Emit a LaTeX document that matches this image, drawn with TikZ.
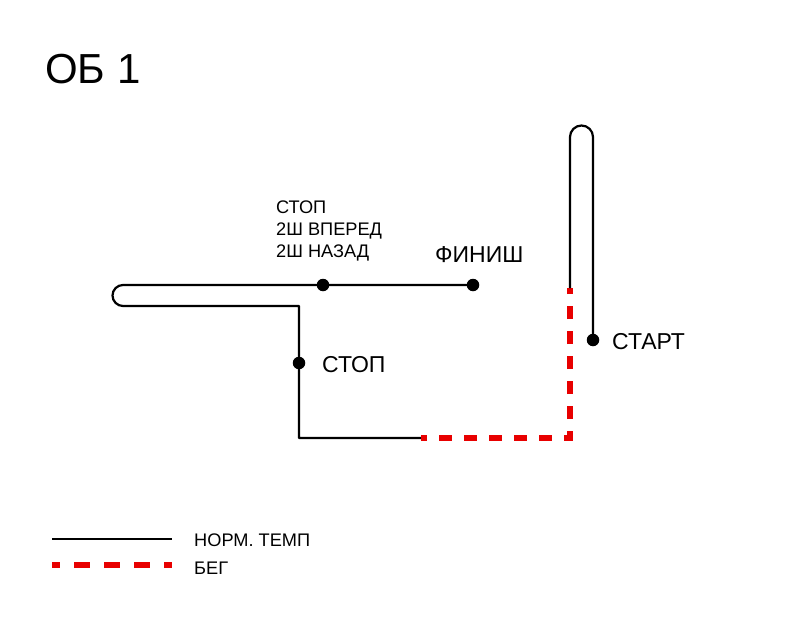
\documentclass[tikz,border=0pt]{standalone}
\usepackage{fontspec}
\setmainfont{Liberation Sans}
\definecolor{runred}{RGB}{232,0,0}
\begin{document}
\begin{tikzpicture}[x=1pt,y=-1pt,
  dot/.style={circle,fill=black,inner sep=0pt,minimum size=12.5pt},
  walk/.style={line width=2.2pt,black,line join=round},
  run/.style={line width=6pt,runred,line join=miter,dash pattern=on 13pt off 12pt,dash phase=7pt},
  legrun/.style={line width=6.5pt,runred,dash pattern=on 16pt off 14pt,dash phase=8pt},
  lbl/.style={inner sep=0pt,anchor=base west},
  fbig/.style={font=\fontsize{42}{50}\selectfont},
  fmid/.style={font=\fontsize{23}{27}\selectfont},
  fsmall/.style={font=\fontsize{18.2}{22}\selectfont}]
\fill[white] (0,0) rectangle (800,618);
\useasboundingbox (0,0) rectangle (800,618);
% positions
\coordinate (pfin) at (473,285);
\coordinate (pstop1) at (323,285);
\coordinate (pstop2) at (299,363);
\coordinate (pstart) at (593,340);
\coordinate (ua) at (123,285);
\coordinate (c1) at (299,306);
\coordinate (c2) at (299,438);
\coordinate (r0) at (421,438);
\coordinate (r1) at (570,438);
\coordinate (r2) at (570,288);
\coordinate (ta) at (570,137);
% route
\draw[walk] (pfin) -- (ua) arc[start angle=270,end angle=90,radius=10.5] -- (c1) -- (c2) -- (r0);
\draw[run] (r0) -- (r1) -- (r2);
\draw[walk] (r2) -- (ta) arc[start angle=180,end angle=360,radius=11.5] -- (pstart);
% dots
\node[dot] (fin) at (pfin) {};
\node[dot] (stop1) at (pstop1) {};
\node[dot] (stop2) at (pstop2) {};
\node[dot] (start) at (pstart) {};
% labels
\node[lbl,fbig] (title) at (45,83) {ОБ 1};
\node[lbl,fsmall] (s1) at (276,213) {СТОП};
\node[lbl,fsmall] (s2) at (276,235) {2Ш ВПЕРЕД};
\node[lbl,fsmall] (s3) at (276,257) {2Ш НАЗАД};
\node[lbl,fmid] (tfin) at (435,262) {ФИНИШ};
\node[lbl,fmid] (tstop) at (322,372) {СТОП};
\node[lbl,fmid] (tstart) at (612,349) {СТАРТ};
% legend
\coordinate (la) at (52,539);
\coordinate (lb) at (172,539);
\coordinate (lc) at (52,565);
\coordinate (ld) at (172,565);
\draw[walk] (la) -- (lb);
\draw[legrun] (lc) -- (ld);
\node[lbl,fsmall] (tnorm) at (194,546) {НОРМ. ТЕМП};
\node[lbl,fsmall] (trun) at (194,574) {БЕГ};
\end{tikzpicture}
\end{document}
